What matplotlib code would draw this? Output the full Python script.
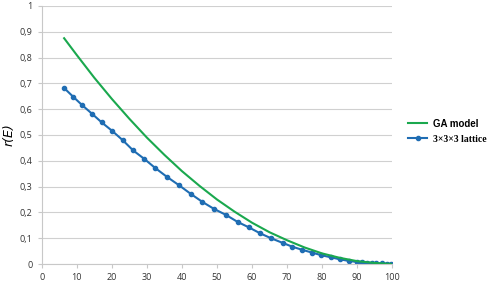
import matplotlib
matplotlib.use("Agg")
import matplotlib.pyplot as plt
from matplotlib.ticker import FuncFormatter

# Data
ga_x = [6.4, 10, 15, 20, 25, 30, 35, 40, 45, 50, 55, 60, 65, 70, 75, 80, 85, 90, 95, 100]
ga_y = [0.875, 0.81, 0.722, 0.64, 0.563, 0.49, 0.423, 0.36, 0.303, 0.25,
        0.203, 0.16, 0.123, 0.092, 0.064, 0.041, 0.024, 0.011, 0.004, 0.0]

lat_x = [6.4, 9.0, 11.6, 14.3, 17.1, 20.1, 23.1, 26.1, 29.3, 32.3, 35.7, 39.2,
         42.5, 45.8, 49.1, 52.6, 55.9, 59.1, 62.3, 65.4, 68.7, 71.5, 74.3, 77.2,
         79.8, 82.5, 85.1, 87.6, 89.8, 91.3, 92.7, 94.1, 95.5, 97.0, 98.4, 99.6]
lat_y = [0.682, 0.648, 0.615, 0.583, 0.549, 0.516, 0.480, 0.440, 0.407, 0.373,
         0.338, 0.305, 0.272, 0.241, 0.214, 0.190, 0.163, 0.142, 0.119, 0.100,
         0.082, 0.067, 0.055, 0.044, 0.034, 0.026, 0.018, 0.012, 0.008, 0.006,
         0.005, 0.004, 0.003, 0.002, 0.001, 0.0]

x_ticks = list(range(0, 101, 10))
y_ticks = [i / 10 for i in range(11)]

fig = plt.figure(figsize=(4.98, 2.82), dpi=100)
ax = fig.add_axes([0.0837, 0.0638, 0.704, 0.915])

green = "#1aa84e"
blue = "#1f6db3"

ax.plot(ga_x, ga_y, color=green, lw=1.5, label="GA model", zorder=3)
ax.plot(lat_x, lat_y, color=blue, lw=1.5, marker="o", ms=3.0,
        label="3×3×3 lattice", zorder=2)

ax.set_xlim(0, 100)
ax.set_ylim(0, 1)
ax.set_xticks(x_ticks)
ax.set_yticks(y_ticks)

def fmt(v, pos):
    s = ("%g" % round(v, 2))
    return s.replace(".", ",")

ax.yaxis.set_major_formatter(FuncFormatter(fmt))
ax.xaxis.set_major_formatter(FuncFormatter(lambda v, p: "%d" % v))

ax.grid(axis="y", color="#d0d0d0", lw=0.8)
ax.set_axisbelow(True)
for s in ["top", "right"]:
    ax.spines[s].set_visible(False)
ax.spines["left"].set_color("#c8c8c8")
ax.spines["bottom"].set_color("#c8c8c8")
ax.tick_params(axis="both", labelsize=6.5, colors="#c8c8c8", labelcolor="#333333",
               length=3, width=0.8)
for lab in ax.get_xticklabels() + ax.get_yticklabels():
    lab.set_family("Open Sans")

fig.text(9.5 / 498, 1 - 135 / 282, "r(E)", fontsize=9, style="italic",
         family="DejaVu Sans", rotation=90, ha="center", va="center")

leg = ax.legend(loc="center left", bbox_to_anchor=(1.02, 0.515), frameon=False,
                handlelength=2.0, fontsize=7.0, labelspacing=0.6,
                handletextpad=0.6)
texts = leg.get_texts()
texts[0].set_family("Liberation Sans")
texts[0].set_weight("bold")
texts[1].set_family("Liberation Serif")
texts[1].set_weight("bold")

fig.savefig("out.png", dpi=100)
